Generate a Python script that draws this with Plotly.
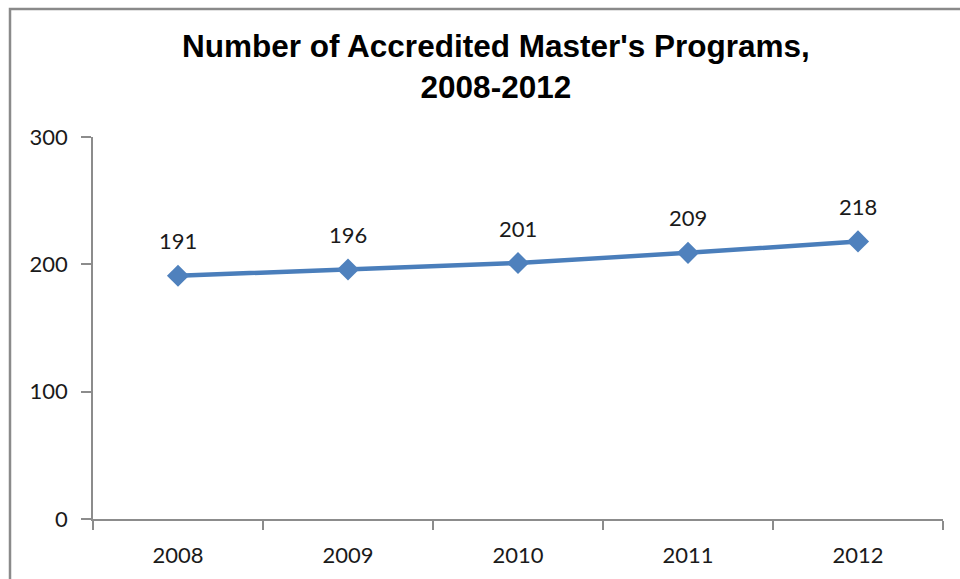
import plotly.graph_objects as go

years = ["2008", "2009", "2010", "2011", "2012"]
programs = [191, 196, 201, 209, 218]
y_ticks = [0, 100, 200, 300]

W, H = 960, 579
L, R, T, B = 93, 17, 137, 60
pw, ph = W - L - R, H - T - B

def px_x(x):
    return (x - L) / pw

def px_y(y):
    return (H - B - y) / ph

fig = go.Figure()
fig.add_trace(go.Scatter(
    x=years, y=programs, mode="lines+markers",
    line=dict(color="#4A7EBB", width=4.5),
    marker=dict(symbol="diamond", size=17, color="#4F81BD", line=dict(width=0)),
    hoverinfo="skip", showlegend=False,
))

for i, v in enumerate(programs):
    fig.add_annotation(x=i, y=v, text=str(v), showarrow=False, yshift=35,
                       xref="x", yref="y",
                       font=dict(family="Lato, Open Sans, sans-serif", size=22, color="#1a1a1a"))

fig.add_annotation(xref="paper", yref="paper", x=px_x(496), y=px_y(66),
                   text="<b>Number of Accredited Master's Programs,<br>2008-2012</b>",
                   showarrow=False, xanchor="center", yanchor="middle",
                   font=dict(family="Liberation Sans, Arial, sans-serif", size=31.5, color="#000000"))

# chart border (top and left visible)
fig.add_shape(type="rect", xref="paper", yref="paper",
              x0=px_x(10), x1=px_x(975), y0=px_y(600), y1=px_y(9),
              line=dict(color="#8a8a8a", width=2.5), fillcolor="rgba(0,0,0,0)", layer="below")

fig.update_layout(
    width=W, height=H,
    margin=dict(l=L, r=R, t=T, b=B, pad=0),
    paper_bgcolor="white", plot_bgcolor="white",
    xaxis=dict(type="category", range=[-0.5, 4.5], showgrid=False, zeroline=False,
               showline=True, linecolor="#8c8c8c", linewidth=1.5,
               ticks="outside", ticklen=9, tickcolor="#8c8c8c", tickwidth=1.5,
               tickson="boundaries", ticklabelstandoff=16,
               tickfont=dict(family="Lato, Open Sans, sans-serif", size=22, color="#1a1a1a")),
    yaxis=dict(range=[0, 300], tickvals=y_ticks, showgrid=False, zeroline=False,
               showline=True, linecolor="#8c8c8c", linewidth=1.5,
               ticks="outside", ticklen=10, tickcolor="#8c8c8c", tickwidth=1.5,
               ticklabelstandoff=9,
               tickfont=dict(family="Lato, Open Sans, sans-serif", size=22, color="#1a1a1a")),
)

fig.write_html("out.html", config={"displayModeBar": False},
               post_script="document.body.style.margin='0';")
